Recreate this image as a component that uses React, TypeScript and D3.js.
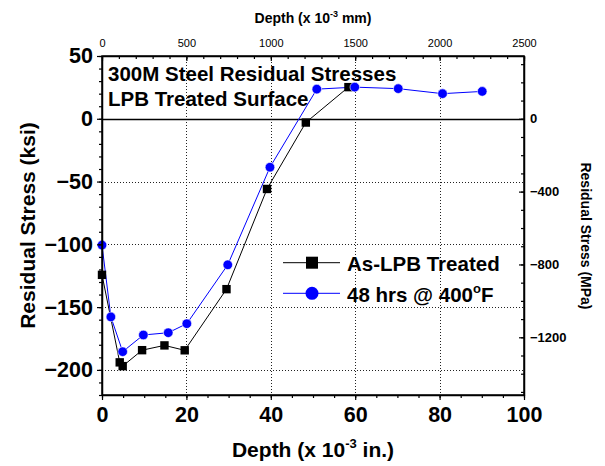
import React, { useEffect, useRef } from 'react';
import * as d3 from 'd3';

// As-LPB Treated (depth x 10^-3 in., stress ksi)
const lpbDepth = [0, 4.2, 4.9, 9.5, 14.8, 19.6, 29.5, 39.1, 48.3, 58.4];
const lpbStress = [-124.3, -194, -197, -184.3, -180.5, -184.4, -135.7, -55.9, -3, 25.2];

// 48 hrs @ 400F
const heatDepth = [0, 2.1, 4.9, 9.8, 15.7, 20.1, 29.8, 39.8, 50.9, 59.9, 70.2, 80.7, 90.1];
const heatStress = [-100.6, -157.8, -185.5, -172.2, -170.4, -163.2, -116.3, -38.6, 23.6, 25.2, 24.0, 20.0, 21.8];

const bottomTicks = [0, 20, 40, 60, 80, 100];
const leftTicks = [50, 0, -50, -100, -150, -200];
const topTicks = [0, 500, 1000, 1500, 2000, 2500];
const rightTicks = [0, -400, -800, -1200];
const gridX = [20, 40, 60, 80];
const gridY = [-50, -100, -150, -200];

const KSI_TO_MPA = 6.895;
const FONT = '"Liberation Sans", Arial, Helvetica, sans-serif';

function App() {
  const ref = useRef<SVGSVGElement>(null);

  useEffect(() => {
    const svg = d3.select(ref.current);
    svg.selectAll('*').remove();

    const left = 102, right = 524, top = 56, bottom = 395;

    const x = d3.scaleLinear().domain([0, 100]).range([left, right]);
    const y = d3.scaleLinear().domain([-220, 50]).range([bottom, top]);
    const xTop = d3.scaleLinear().domain([0, 2500]).range([left, right]);
    const yRight = d3.scaleLinear().domain([-220 * KSI_TO_MPA, 50 * KSI_TO_MPA]).range([bottom, top]);
    const px = (v: number) => Math.round(v) + 0.5;

    // grid
    const grid = svg.append('g').attr('stroke', '#222').attr('stroke-width', 1)
      .attr('stroke-dasharray', '1,2').attr('shape-rendering', 'crispEdges');
    grid.selectAll('line.gx').data(gridX).join('line').attr('class', 'gx')
      .attr('x1', d => px(x(d))).attr('x2', d => px(x(d))).attr('y1', top).attr('y2', bottom);
    grid.selectAll('line.gy').data(gridY).join('line').attr('class', 'gy')
      .attr('x1', left).attr('x2', right).attr('y1', d => px(y(d))).attr('y2', d => px(y(d)));

    // zero line
    svg.append('line')
      .attr('x1', left).attr('x2', right).attr('y1', px(y(0))).attr('y2', px(y(0)))
      .attr('stroke', '#000').attr('stroke-width', 1.3);

    const line = d3.line<[number, number]>().x(d => x(d[0])).y(d => y(d[1]));
    const lpb = lpbDepth.map((d, i) => [d, lpbStress[i]] as [number, number]);
    const heat = heatDepth.map((d, i) => [d, heatStress[i]] as [number, number]);

    svg.append('path').attr('d', line(lpb)).attr('fill', 'none').attr('stroke', '#000').attr('stroke-width', 1);
    svg.append('path').attr('d', line(heat)).attr('fill', 'none').attr('stroke', '#0000ff').attr('stroke-width', 1);

    svg.selectAll('rect.sq').data(lpb).join('rect').attr('class', 'sq')
      .attr('x', d => x(d[0]) - 4.2).attr('y', d => y(d[1]) - 4.2)
      .attr('width', 8.4).attr('height', 8.4).attr('fill', '#000');
    svg.selectAll('circle.ci').data(heat).join('circle').attr('class', 'ci')
      .attr('cx', d => x(d[0])).attr('cy', d => y(d[1])).attr('r', 4.8)
      .attr('fill', '#0000ff').attr('stroke', '#fff').attr('stroke-width', 0.6);

    // axes
    const styleAxis = (g: any, size: number, weight: string) => {
      g.select('.domain').attr('stroke', '#000').attr('stroke-width', 1.5);
      g.selectAll('.tick line').attr('stroke', '#000').attr('stroke-width', 1.2);
      g.selectAll('text').attr('font-family', FONT).attr('font-size', size).attr('font-weight', weight).attr('fill', '#000');
    };

    // bottom
    svg.append('g').attr('transform', `translate(0,${bottom})`)
      .call(d3.axisBottom(x).tickValues(d3.range(0, 101, 5)).tickFormat(() => '').tickSize(3).tickSizeOuter(0))
      .call(g => styleAxis(g, 21.5, 'bold'));
    const gb = svg.append('g').attr('transform', `translate(0,${bottom})`)
      .call(d3.axisBottom(x).tickValues(bottomTicks).tickFormat(d3.format('d')).tickSize(5).tickPadding(7).tickSizeOuter(0));
    styleAxis(gb, 21.5, 'bold');
    gb.select('.domain').remove();

    // left
    svg.append('g').attr('transform', `translate(${left},0)`)
      .call(d3.axisLeft(y).tickValues(d3.range(-220, 51, 10)).tickFormat(() => '').tickSize(3).tickSizeOuter(0))
      .call(g => styleAxis(g, 21.5, 'bold'));
    const gl = svg.append('g').attr('transform', `translate(${left},0)`)
      .call(d3.axisLeft(y).tickValues(leftTicks).tickFormat(d3.format('d')).tickSize(5).tickPadding(4).tickSizeOuter(0));
    styleAxis(gl, 21.5, 'bold');
    gl.select('.domain').remove();

    // top (inward ticks)
    svg.append('g').attr('transform', `translate(0,${top})`)
      .call(d3.axisTop(xTop).tickValues(d3.range(0, 2501, 100)).tickFormat(() => '').tickSize(-3).tickSizeOuter(0))
      .call(g => styleAxis(g, 11, 'normal'));
    const gt = svg.append('g').attr('transform', `translate(0,${top})`)
      .call(d3.axisTop(xTop).tickValues(topTicks).tickFormat(d3.format('d')).tickSize(-5).tickPadding(9).tickSizeOuter(0));
    styleAxis(gt, 11, 'normal');
    gt.select('.domain').remove();

    // right (inward ticks)
    svg.append('g').attr('transform', `translate(${right},0)`)
      .call(d3.axisRight(yRight).tickValues(d3.range(-1500, 301, 100)).tickFormat(() => '').tickSize(-3).tickSizeOuter(0))
      .call(g => styleAxis(g, 13, 'bold'));
    const gr = svg.append('g').attr('transform', `translate(${right},0)`)
      .call(d3.axisRight(yRight).tickValues(rightTicks).tickFormat(d3.format('d')).tickSize(-5).tickPadding(6).tickSizeOuter(0));
    styleAxis(gr, 13, 'bold');
    gr.select('.domain').remove();

    // titles
    const txt = (xx: number, yy: number, size: number, anchor: string, rot = 0) =>
      svg.append('text')
        .attr('transform', `translate(${xx},${yy}) rotate(${rot})`)
        .attr('text-anchor', anchor).attr('font-family', FONT)
        .attr('font-size', size).attr('font-weight', 'bold').attr('fill', '#000');

    const bt = txt(313, 457, 21, 'middle');
    bt.append('tspan').text('Depth (x 10');
    bt.append('tspan').attr('font-size', 13).attr('dy', -9).text('-3');
    bt.append('tspan').attr('dy', 9).text(' in.)');

    const tt = txt(313, 23, 14, 'middle');
    tt.append('tspan').text('Depth (x 10');
    tt.append('tspan').attr('font-size', 9).attr('dy', -6).text('-3');
    tt.append('tspan').attr('dy', 6).text(' mm)');

    txt(35, (top + bottom) / 2, 21, 'middle', -90).text('Residual Stress (ksi)');
    txt(581, 236, 14, 'middle', 90).text('Residual Stress (MPa)');

    txt(108, 81, 20.5, 'start').text('300M Steel Residual Stresses');
    txt(108, 106, 20.5, 'start').text('LPB Treated Surface');

    // legend
    const legY = [262.7, 293.3];
    svg.append('line').attr('x1', 283).attr('x2', 340).attr('y1', legY[0]).attr('y2', legY[0]).attr('stroke', '#000');
    svg.append('rect').attr('x', 312 - 6).attr('y', legY[0] - 6).attr('width', 12).attr('height', 12).attr('fill', '#000');
    svg.append('line').attr('x1', 283).attr('x2', 340).attr('y1', legY[1]).attr('y2', legY[1]).attr('stroke', '#0000ff');
    svg.append('circle').attr('cx', 312).attr('cy', legY[1]).attr('r', 6.5).attr('fill', '#0000ff');
    txt(347, 271, 20.5, 'start').text('As-LPB Treated');
    const l2 = txt(347, 302, 20.5, 'start');
    l2.append('tspan').text('48 hrs @ 400');
    l2.append('tspan').attr('font-size', 13).attr('dy', -9).text('o');
    l2.append('tspan').attr('dy', 9).text('F');

    // frame
    svg.append('rect').attr('x', left).attr('y', top).attr('width', right - left).attr('height', bottom - top)
      .attr('fill', 'none').attr('stroke', '#000').attr('stroke-width', 1.5);
  }, []);

  return (
    <svg ref={ref} width={605} height={466}
      style={{ position: 'absolute', left: 0, top: 0, background: '#fff' }} />
  );
}

export default App;
